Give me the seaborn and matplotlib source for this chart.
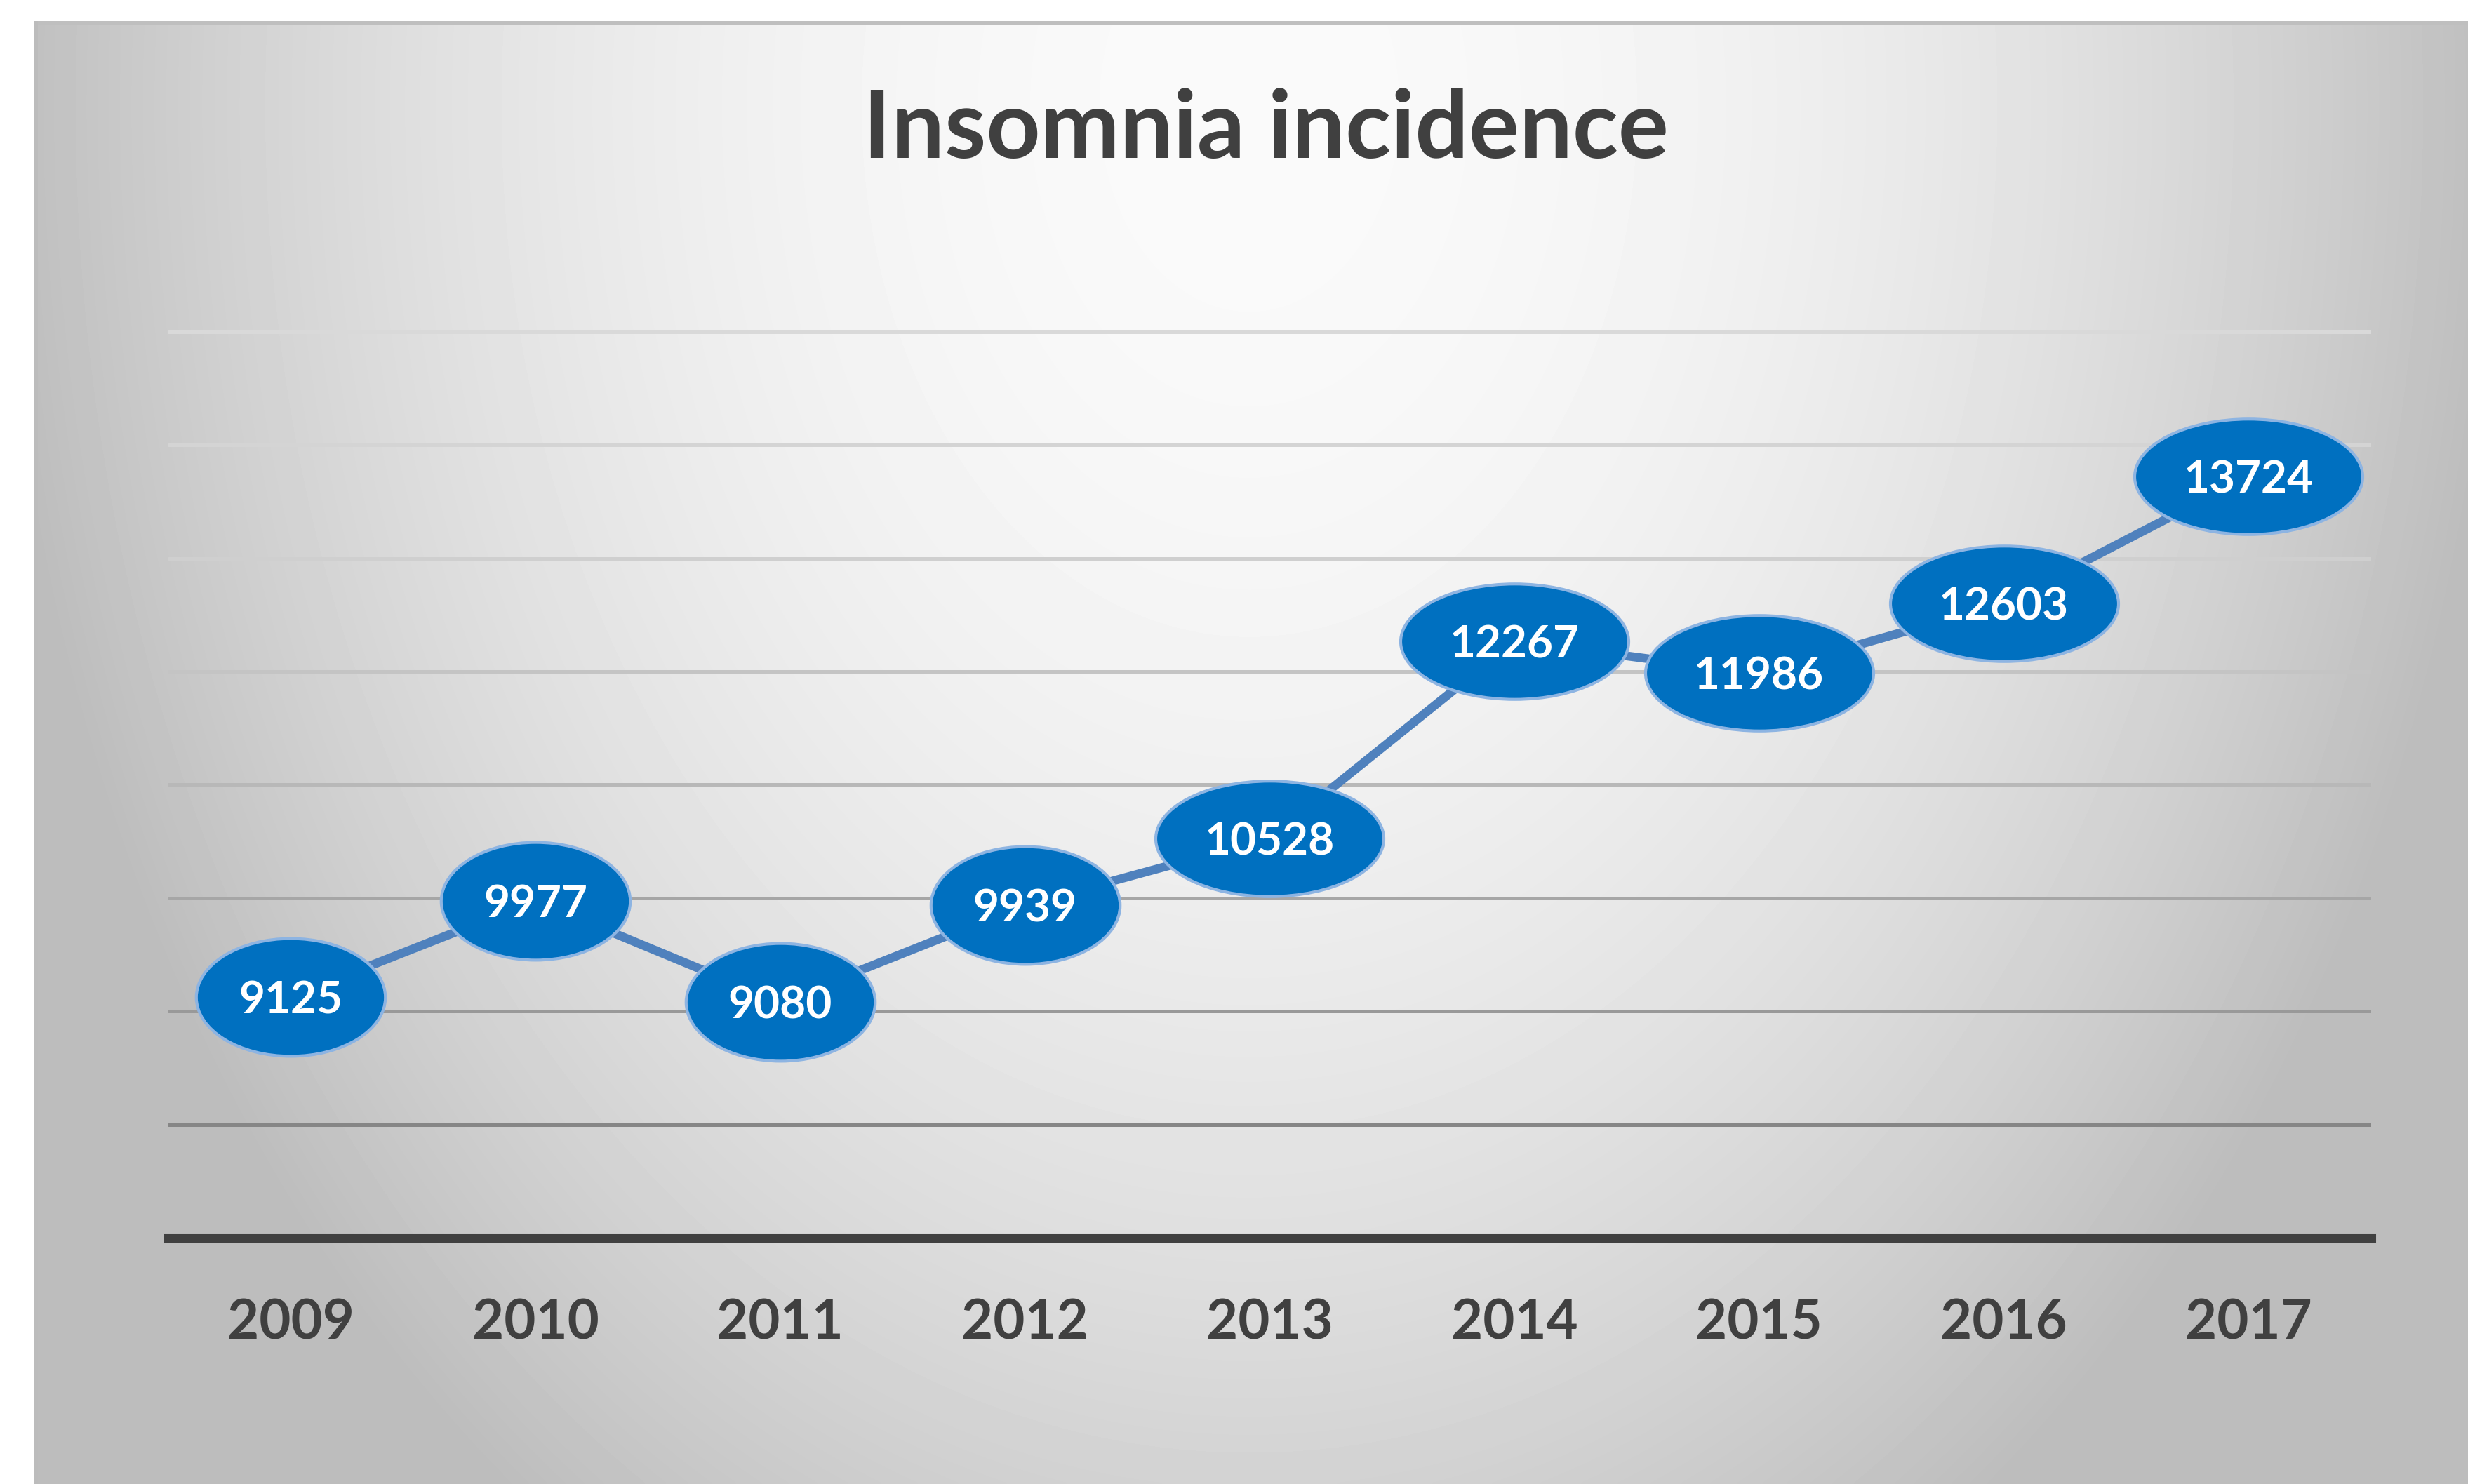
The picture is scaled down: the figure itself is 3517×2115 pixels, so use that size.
import numpy as np
import matplotlib
matplotlib.use('Agg')
import matplotlib.pyplot as plt
import seaborn as sns
from matplotlib.path import Path
from matplotlib.patches import Rectangle
from matplotlib.transforms import Affine2D

# data
years = ['2009', '2010', '2011', '2012', '2013', '2014', '2015', '2016', '2017']
cases = [9125, 9977, 9080, 9939, 10528, 12267, 11986, 12603, 13724]
grid_levels = [8000, 9000, 10000, 11000, 12000, 13000, 14000, 15000]
title = 'Insomnia incidence'

sns.set_style('white')
plt.rcParams['font.family'] = ['Lato', 'DejaVu Sans']

W, H = 3517, 2115
fig = plt.figure(figsize=(W / 100, H / 100), dpi=100)

# gray radial backdrop like the office chart style
bg = fig.add_axes([0, 0, 1, 1], zorder=-5)
yy, xx = np.mgrid[0:H:4, 0:W:4]
r2 = ((xx - 1780) / 1750.0) ** 2 + ((yy - 150) / 2393.0) ** 2
shade = np.clip(0.98 - 0.23 * r2, 0.74, 1.0)
bg.imshow(shade, cmap='gray', vmin=0, vmax=1, extent=(0, W, H, 0),
          aspect='auto', interpolation='bilinear')
bg.add_patch(Rectangle((0, 0), 48, H, color='white', lw=0))
bg.add_patch(Rectangle((0, 0), W, 30, color='white', lw=0))
bg.add_patch(Rectangle((48, 30), W - 48, 6, color='#bfbfbf', lw=0))
bg.add_patch(Rectangle((48, 30), 6, H - 30, color='#bcbcbc', lw=0))
bg.set_xlim(0, W)
bg.set_ylim(H, 0)
bg.axis('off')

ax = fig.add_axes([0.0682, 0.1660, 0.8925, 0.618])
ax.patch.set_alpha(0)

sns.lineplot(x=years, y=cases, ax=ax, color='#4f81bd', lw=9, zorder=2)

circle = Path.unit_circle()
ell4 = circle.transformed(Affine2D().scale(1, 170 / 273))
ell5 = circle.transformed(Affine2D().scale(1, 167 / 330))

for yr, v in zip(years, cases):
    lab = str(v)
    if len(lab) > 4:
        mk, ms = ell5, 234
    else:
        mk, ms = ell4, 194
    ax.plot(yr, v, marker=mk, ms=ms, mfc='#0070c0', mec='#8db4e2', mew=3,
            ls='none', zorder=3, clip_on=False)
    ax.text(yr, v, lab, ha='center', va='center_baseline', color='white',
            fontsize=46, fontweight='bold', zorder=4)

ax.set_xlim(-0.5, 8.5)
ax.set_ylim(7000, 15100)
ax.set_yticks(grid_levels)
ax.set_yticklabels([])
ax.tick_params(axis='y', length=0)
ax.grid(axis='y', lw=3.6)
grid_colors = ['#868686', '#999999', '#a6a6a6', '#b8b8b8', '#c4c4c4', '#cfcfcf', '#d4d4d4', '#d9d9d9']
for gl, c in zip(ax.get_ygridlines(), grid_colors):
    gl.set_color(c)
ax.set_xlabel('')
ax.set_ylabel('')

sns.despine(ax=ax, left=True)
ax.spines['bottom'].set_color('#404040')
ax.spines['bottom'].set_linewidth(9.4)
ax.spines['bottom'].set_zorder(1)

ax.tick_params(axis='x', length=0, pad=62, labelsize=56, labelcolor='#404040')
for t in ax.get_xticklabels():
    t.set_fontweight('bold')

fig.text(0.513, 1 - 186 / 2115, title, ha='center', va='center',
         fontsize=97, fontweight='bold', color='#404040')

fig.savefig('out.png', dpi=100)
